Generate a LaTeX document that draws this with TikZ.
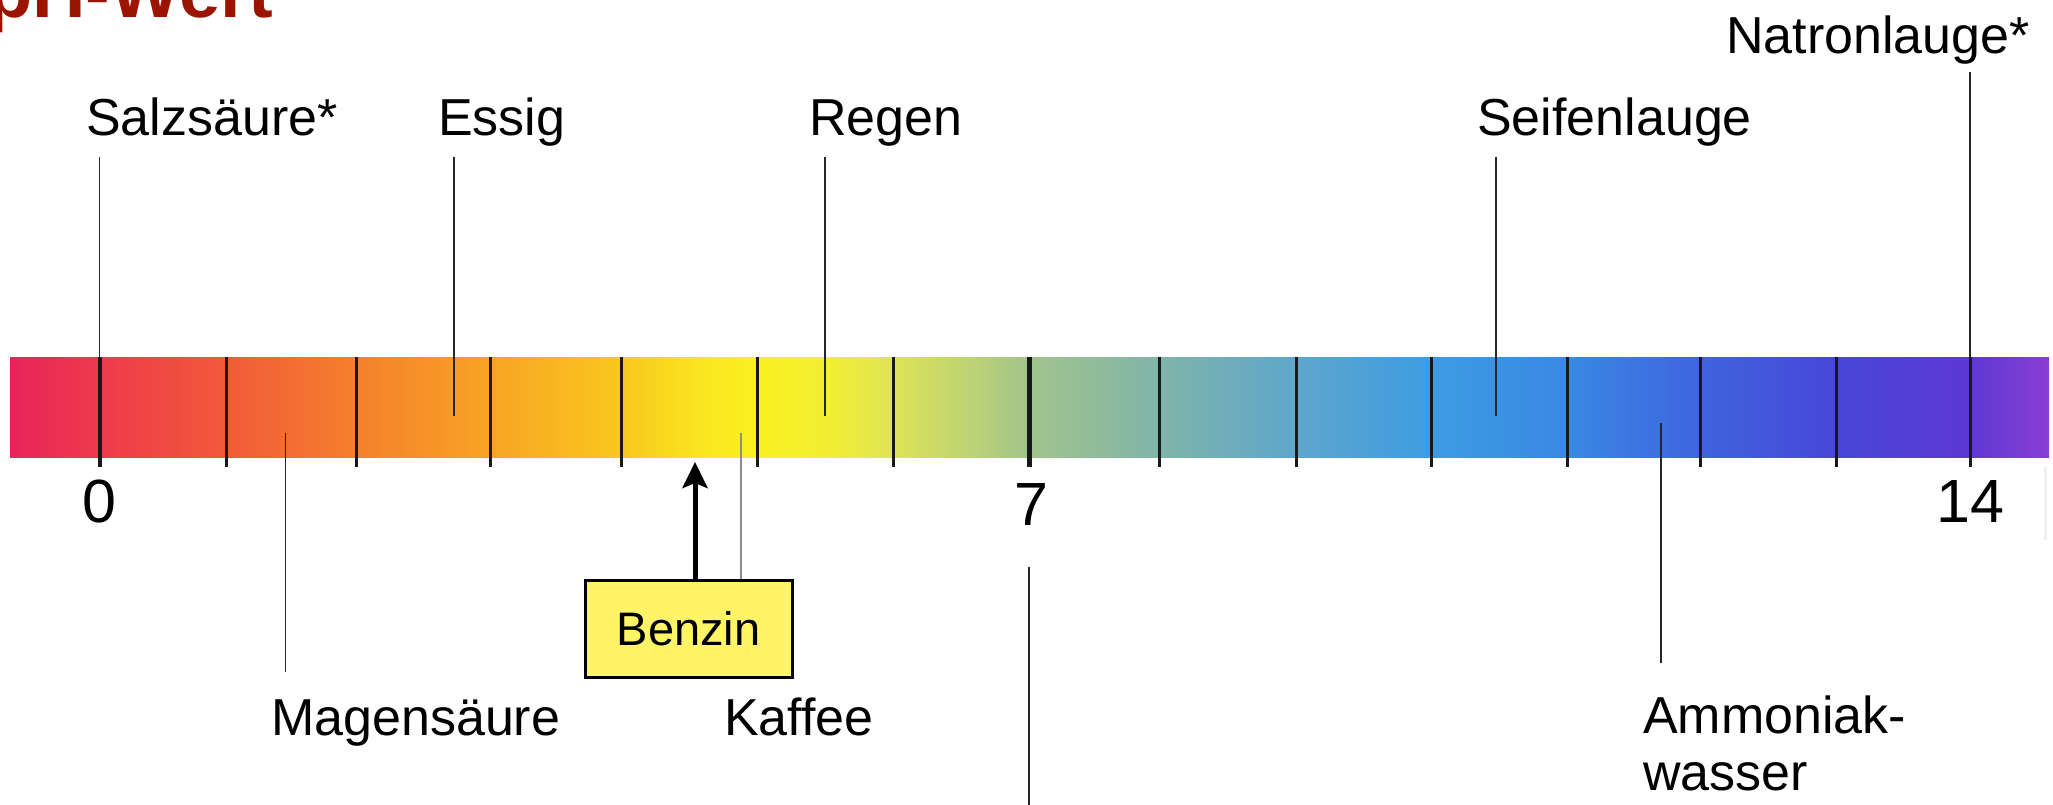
\documentclass[tikz,border=0pt]{standalone}
\usepackage{fontspec}
\setmainfont{Liberation Sans}
\usetikzlibrary{arrows.meta}
\definecolor{titlered}{RGB}{155,20,0}
\definecolor{benzinfill}{HTML}{FFF466}
\definecolor{cA}{HTML}{E8245A}
\definecolor{cB}{HTML}{EE3A4C}
\definecolor{cC}{HTML}{F25A3A}
\definecolor{cD}{HTML}{F5802C}
\definecolor{cE}{HTML}{F8A424}
\definecolor{cF}{HTML}{F9C81E}
\definecolor{cG}{HTML}{FAE620}
\definecolor{cH}{HTML}{FAF020}
\definecolor{cI}{HTML}{F2EE34}
\definecolor{cJ}{HTML}{DEE456}
\definecolor{cK}{HTML}{A2C48C}
\definecolor{cL}{HTML}{80B4AA}
\definecolor{cM}{HTML}{5EA6CC}
\definecolor{cN}{HTML}{3E9CE2}
\definecolor{cO}{HTML}{3A88E4}
\definecolor{cP}{HTML}{3F64DE}
\definecolor{cQ}{HTML}{4846D8}
\definecolor{cR}{HTML}{5C38D2}
\definecolor{cS}{HTML}{8A3ED4}
\newcommand\barseg[4]{\shade[left color=#3,right color=#4] (#1,357) rectangle ({#2+1},457);}
\tikzset{
  lbl/.style={inner sep=0pt, anchor=base west, font=\fontsize{52}{60}\selectfont},
  num/.style={inner sep=0pt, anchor=base, font=\fontsize{61}{70}\selectfont},
  pointer/.style={line width=1.8pt, draw=black!85},
  tick/.style={line width=3pt, draw=black!90},
}
\begin{document}
\begin{tikzpicture}[x=1pt,y=-1pt]
\useasboundingbox (0,0) rectangle (2053,805);
% title (cropped at top)
\node[inner sep=0pt, anchor=base west, text=titlered, font=\fontsize{74}{80}\selectfont\bfseries] (title) at (-13,18) {pH-Wert};
% colour bar
\barseg{10}{99.5}{cA}{cB}
\barseg{99.5}{226.5}{cB}{cC}
\barseg{226.5}{356}{cC}{cD}
\barseg{356}{490}{cD}{cE}
\barseg{490}{621}{cE}{cF}
\barseg{621}{700}{cF}{cG}
\barseg{700}{757}{cG}{cH}
\barseg{757}{830}{cH}{cI}
\barseg{830}{893}{cI}{cJ}
\barseg{893}{1029}{cJ}{cK}
\barseg{1029}{1159}{cK}{cL}
\barseg{1159}{1296}{cL}{cM}
\barseg{1296}{1431}{cM}{cN}
\barseg{1431}{1567}{cN}{cO}
\barseg{1567}{1700}{cO}{cP}
\barseg{1700}{1836}{cP}{cQ}
\barseg{1836}{1969}{cQ}{cR}
\shade[left color=cR,right color=cS] (1969,357) rectangle (2049,457);
% ticks
\foreach \x in {226.5,356,490,621,757,893,1159,1296,1431,1567,1700,1836,1970}
  \draw[tick] (\x,357) -- (\x,467);
\draw[tick, line width=4pt] (99.5,357) -- (99.5,467);
\draw[tick, line width=5pt] (1029,357) -- (1029,467);
% faint edge right of 14
\draw[line width=3pt, draw=black!6] (2045,467) -- (2045,540);
% numbers
\node[num] (n0) at (99.5,522) {0};
\node[num] (n7) at (1031,525) {7};
\node[num] (n14) at (1970,522) {14};
% labels above
\node[lbl] (salz) at (86,136) {Salzsäure*};
\node[lbl] (essig) at (438,136) {Essig};
\node[lbl] (regen) at (809,136) {Regen};
\node[lbl] (seife) at (1477,136) {Seifenlauge};
\node[lbl] (natron) at (1726,54) {Natronlauge*};
\coordinate (salzA) at (99.5,157);  \coordinate (salzB) at (99.5,357);
\coordinate (essigA) at (454,157);  \coordinate (essigB) at (454,416);
\coordinate (regenA) at (825,157);  \coordinate (regenB) at (825,416);
\coordinate (seifeA) at (1496,157); \coordinate (seifeB) at (1496,416);
\coordinate (natronA) at (1970,72); \coordinate (natronB) at (1970,357);
\draw[pointer] (salzA) -- (salzB);
\draw[pointer] (essigA) -- (essigB);
\draw[pointer] (regenA) -- (regenB);
\draw[pointer] (seifeA) -- (seifeB);
\draw[pointer] (natronA) -- (natronB);
% labels below
\node[lbl] (magen) at (271,735) {Magensäure};
\node[lbl] (kaffee) at (724,735) {Kaffee};
\node[lbl] (ammo1) at (1643,733) {Ammoniak-};
\node[lbl] (ammo2) at (1643,790) {wasser};
\coordinate (magenA) at (285.5,433); \coordinate (magenB) at (285.5,672);
\coordinate (ammoA) at (1661,423);   \coordinate (ammoB) at (1661,663);
\coordinate (kaffeeA) at (741,433);
\coordinate (sevenA) at (1029,567);  \coordinate (sevenB) at (1029,805);
\draw[pointer] (magenA) -- (magenB);
\draw[pointer] (ammoA) -- (ammoB);
\draw[pointer] (sevenA) -- (sevenB);
% Benzin box
\node[draw=black, line width=3pt, fill=benzinfill, minimum width=207pt, minimum height=97pt, inner sep=0pt,
      font=\fontsize{47}{56}\selectfont] (benzin) at (688.5,629) {Benzin};
\coordinate (arrowTip) at (695,462);
\draw[line width=2pt, draw=black!45] (kaffeeA) -- (kaffeeA |- benzin.north);
\draw[line width=5pt, -{Stealth[width=25pt,length=26pt,inset=5pt]}] (benzin.north -| arrowTip) -- (arrowTip);
\end{tikzpicture}
\end{document}
